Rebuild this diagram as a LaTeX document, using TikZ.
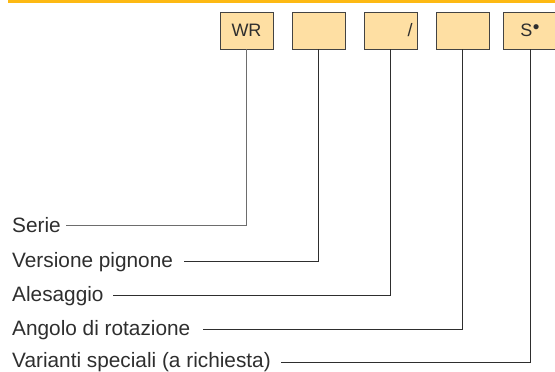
\documentclass[tikz,border=0pt]{standalone}
\usepackage{fontspec}
\setmainfont{Liberation Sans}
\definecolor{barorange}{HTML}{FDB913}
\definecolor{boxfill}{HTML}{FEDFA3}
\definecolor{ink}{HTML}{2E2E2E}
\tikzset{
  codebox/.style={draw=ink!90, line width=0.8pt, fill=boxfill, minimum width=53pt, minimum height=37pt, inner sep=0pt, text=ink, font=\fontsize{18}{19}\selectfont},
  lab/.style={anchor=base west, inner sep=0pt, text=ink, font=\fontsize{20.8}{22}\selectfont},
  conn/.style={draw=ink, line width=0.8pt},
}
\begin{document}
\begin{tikzpicture}[x=1pt,y=-1pt]
\useasboundingbox (0,0) rectangle (555,372);
\fill[barorange] (8,0) rectangle (556,3);
% boxes
\node[codebox] (b1) at (246.5,30.5) {\raisebox{-1pt}{WR}};
\node[codebox] (b2) at (318.5,30.5) {};
\node[codebox, text width=44pt, align=right] (b3) at (390.5,30.5) {\raisebox{-1pt}{/}};
\node[codebox] (b4) at (462.5,30.5) {};
\node[codebox] (b5) at (530,30.5) {\raisebox{-1pt}{S\kern0.5pt\raisebox{3.5pt}{\fontsize{19}{19}\selectfont •}}};
% labels
\node[lab] (l1) at (12,232) {Serie};
\node[lab] (l2) at (12,267.5) {Versione pignone};
\node[lab] (l3) at (12,301.5) {Alesaggio};
\node[lab] (l4) at (12,335) {Angolo di rotazione};
\node[lab] (l5) at (12,367) {Varianti speciali (a richiesta)};
% line ends
\coordinate (e1) at (66,225);
\coordinate (e2) at (184,261);
\coordinate (e3) at (113,295);
\coordinate (e4) at (203,329);
\coordinate (e5) at (281,362);
% connectors
\draw[conn, draw=ink!70] (b1.south) |- (e1);
\draw[conn] (b2.south) |- (e2);
\draw[conn] (b3.south) |- (e3);
\draw[conn] (b4.south) |- (e4);
\draw[conn] (b5.south) |- (e5);
\end{tikzpicture}
\end{document}
